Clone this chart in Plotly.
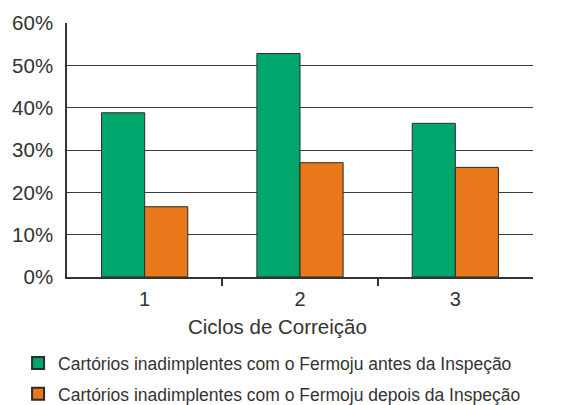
import plotly.graph_objects as go

categories = ["1", "2", "3"]
antes = [38.8, 52.8, 36.3]
depois = [16.6, 27.0, 25.9]
series_names = [
    "Cartórios inadimplentes com o Fermoju antes da Inspeção",
    "Cartórios inadimplentes com o Fermoju depois da Inspeção",
]
y_ticks = [0, 10, 20, 30, 40, 50, 60]
y_tick_labels = ["0%", "10%", "20%", "30%", "40%", "50%", "60%"]
x_title = "Ciclos de Correição"

FONT = "Liberation Sans, Arial, sans-serif"
GREEN = "#00A66C"
ORANGE = "#E8781A"
EDGE = "#2b2b2b"
TXT = "#333333"

fig = go.Figure()
fig.add_trace(go.Bar(x=categories, y=antes, name=series_names[0], legendgroup="a",
                     marker=dict(color=GREEN, line=dict(color=EDGE, width=1))))
fig.add_trace(go.Bar(x=categories, y=depois, name=series_names[1], legendgroup="b",
                     marker=dict(color=ORANGE, line=dict(color=EDGE, width=1))))
# invisible trace to activate the overlay axis that carries the boundary ticks
fig.add_trace(go.Scatter(x=[1.5, 2.5], y=[0, 0], xaxis="x2", mode="markers",
                         marker=dict(opacity=0), showlegend=False, hoverinfo="skip"))

fig.update_layout(
    width=562, height=405,
    margin=dict(l=67, r=29, t=23, b=128, autoexpand=False),
    paper_bgcolor="white", plot_bgcolor="white",
    font=dict(family=FONT, color=TXT, size=20),
    barmode="group", bargap=0.445, bargroupgap=0,
    xaxis=dict(type="category", showgrid=False, ticks="", showline=True,
               linecolor=TXT, linewidth=1.5, tickfont=dict(size=20),
               ticklabelstandoff=3),
    xaxis2=dict(overlaying="x", range=[0.5, 3.5], showgrid=False,
                tickvals=[1.5, 2.5], ticks="outside", ticklen=8, tickwidth=1.5,
                tickcolor=TXT, showticklabels=False, showline=False,
                zeroline=False, side="bottom"),
    yaxis=dict(range=[0, 60], tickvals=y_ticks, ticktext=y_tick_labels,
               showgrid=True, gridcolor="#3a3a3a", gridwidth=1.3,
               showline=True, linecolor=TXT, linewidth=1.5,
               zeroline=False, ticks="", tickfont=dict(size=20.5),
               ticklabelstandoff=8),
    legend=dict(x=-0.105, y=-0.268, xanchor="left", yanchor="top",
                font=dict(size=17.5, color=TXT), orientation="v",
                tracegroupgap=5, itemsizing="constant", bgcolor="rgba(0,0,0,0)"),
    annotations=[dict(text=x_title, xref="paper", yref="paper", x=0.451, y=-0.142,
                      xanchor="center", yanchor="top", showarrow=False,
                      font=dict(size=20.5, color=TXT))],
)

fig.write_html("out.html", config={"displayModeBar": False},
               post_script="document.body.style.margin='0';")
